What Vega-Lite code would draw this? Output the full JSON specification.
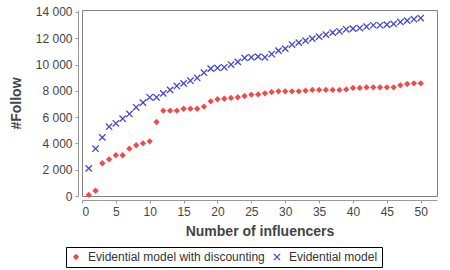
{
  "$schema": "https://vega.github.io/schema/vega-lite/v6.json",
  "autosize": "none",
  "width": 355,
  "height": 186,
  "padding": {"left": 82, "top": 10, "right": 13, "bottom": 74},
  "background": "white",
  "config": {
    "font": "Liberation Sans",
    "view": {"stroke": "#808080", "strokeWidth": 1},
    "axis": {
      "domainColor": "#999999",
      "tickColor": "#999999",
      "labelColor": "#444444",
      "labelFont": "Liberation Sans",
      "labelFontSize": 12,
      "titleFont": "Liberation Sans",
      "titleFontSize": 14,
      "titleFontWeight": "bold",
      "titleColor": "#444444",
      "grid": false,
      "offset": 4,
      "tickSize": 3
    }
  },
  "data": {
    "values": [
      {"n": 1, "s": "Evidential model with discounting", "v": 80},
      {"n": 2, "s": "Evidential model with discounting", "v": 400},
      {"n": 3, "s": "Evidential model with discounting", "v": 2490},
      {"n": 4, "s": "Evidential model with discounting", "v": 2790},
      {"n": 5, "s": "Evidential model with discounting", "v": 3100},
      {"n": 6, "s": "Evidential model with discounting", "v": 3100},
      {"n": 7, "s": "Evidential model with discounting", "v": 3600},
      {"n": 8, "s": "Evidential model with discounting", "v": 3860},
      {"n": 9, "s": "Evidential model with discounting", "v": 4010},
      {"n": 10, "s": "Evidential model with discounting", "v": 4160},
      {"n": 11, "s": "Evidential model with discounting", "v": 5630},
      {"n": 12, "s": "Evidential model with discounting", "v": 6490},
      {"n": 13, "s": "Evidential model with discounting", "v": 6490},
      {"n": 14, "s": "Evidential model with discounting", "v": 6490},
      {"n": 15, "s": "Evidential model with discounting", "v": 6640},
      {"n": 16, "s": "Evidential model with discounting", "v": 6640},
      {"n": 17, "s": "Evidential model with discounting", "v": 6640},
      {"n": 18, "s": "Evidential model with discounting", "v": 6800},
      {"n": 19, "s": "Evidential model with discounting", "v": 7200},
      {"n": 20, "s": "Evidential model with discounting", "v": 7360},
      {"n": 21, "s": "Evidential model with discounting", "v": 7400},
      {"n": 22, "s": "Evidential model with discounting", "v": 7460},
      {"n": 23, "s": "Evidential model with discounting", "v": 7510},
      {"n": 24, "s": "Evidential model with discounting", "v": 7610},
      {"n": 25, "s": "Evidential model with discounting", "v": 7710},
      {"n": 26, "s": "Evidential model with discounting", "v": 7730},
      {"n": 27, "s": "Evidential model with discounting", "v": 7810},
      {"n": 28, "s": "Evidential model with discounting", "v": 7910},
      {"n": 29, "s": "Evidential model with discounting", "v": 7960},
      {"n": 30, "s": "Evidential model with discounting", "v": 7960},
      {"n": 31, "s": "Evidential model with discounting", "v": 7960},
      {"n": 32, "s": "Evidential model with discounting", "v": 7960},
      {"n": 33, "s": "Evidential model with discounting", "v": 8010},
      {"n": 34, "s": "Evidential model with discounting", "v": 8070},
      {"n": 35, "s": "Evidential model with discounting", "v": 8070},
      {"n": 36, "s": "Evidential model with discounting", "v": 8070},
      {"n": 37, "s": "Evidential model with discounting", "v": 8070},
      {"n": 38, "s": "Evidential model with discounting", "v": 8070},
      {"n": 39, "s": "Evidential model with discounting", "v": 8110},
      {"n": 40, "s": "Evidential model with discounting", "v": 8220},
      {"n": 41, "s": "Evidential model with discounting", "v": 8220},
      {"n": 42, "s": "Evidential model with discounting", "v": 8270},
      {"n": 43, "s": "Evidential model with discounting", "v": 8270},
      {"n": 44, "s": "Evidential model with discounting", "v": 8270},
      {"n": 45, "s": "Evidential model with discounting", "v": 8270},
      {"n": 46, "s": "Evidential model with discounting", "v": 8270},
      {"n": 47, "s": "Evidential model with discounting", "v": 8420},
      {"n": 48, "s": "Evidential model with discounting", "v": 8520},
      {"n": 49, "s": "Evidential model with discounting", "v": 8570},
      {"n": 50, "s": "Evidential model with discounting", "v": 8570},
      {"n": 1, "s": "Evidential model", "v": 2100},
      {"n": 2, "s": "Evidential model", "v": 3600},
      {"n": 3, "s": "Evidential model", "v": 4460},
      {"n": 4, "s": "Evidential model", "v": 5270},
      {"n": 5, "s": "Evidential model", "v": 5530},
      {"n": 6, "s": "Evidential model", "v": 5880},
      {"n": 7, "s": "Evidential model", "v": 6240},
      {"n": 8, "s": "Evidential model", "v": 6750},
      {"n": 9, "s": "Evidential model", "v": 7100},
      {"n": 10, "s": "Evidential model", "v": 7510},
      {"n": 11, "s": "Evidential model", "v": 7510},
      {"n": 12, "s": "Evidential model", "v": 7810},
      {"n": 13, "s": "Evidential model", "v": 8070},
      {"n": 14, "s": "Evidential model", "v": 8370},
      {"n": 15, "s": "Evidential model", "v": 8570},
      {"n": 16, "s": "Evidential model", "v": 8770},
      {"n": 17, "s": "Evidential model", "v": 8980},
      {"n": 18, "s": "Evidential model", "v": 9380},
      {"n": 19, "s": "Evidential model", "v": 9690},
      {"n": 20, "s": "Evidential model", "v": 9740},
      {"n": 21, "s": "Evidential model", "v": 9790},
      {"n": 22, "s": "Evidential model", "v": 10000},
      {"n": 23, "s": "Evidential model", "v": 10200},
      {"n": 24, "s": "Evidential model", "v": 10500},
      {"n": 25, "s": "Evidential model", "v": 10550},
      {"n": 26, "s": "Evidential model", "v": 10600},
      {"n": 27, "s": "Evidential model", "v": 10550},
      {"n": 28, "s": "Evidential model", "v": 10800},
      {"n": 29, "s": "Evidential model", "v": 11060},
      {"n": 30, "s": "Evidential model", "v": 11210},
      {"n": 31, "s": "Evidential model", "v": 11520},
      {"n": 32, "s": "Evidential model", "v": 11670},
      {"n": 33, "s": "Evidential model", "v": 11820},
      {"n": 34, "s": "Evidential model", "v": 11970},
      {"n": 35, "s": "Evidential model", "v": 12120},
      {"n": 36, "s": "Evidential model", "v": 12280},
      {"n": 37, "s": "Evidential model", "v": 12430},
      {"n": 38, "s": "Evidential model", "v": 12530},
      {"n": 39, "s": "Evidential model", "v": 12680},
      {"n": 40, "s": "Evidential model", "v": 12730},
      {"n": 41, "s": "Evidential model", "v": 12780},
      {"n": 42, "s": "Evidential model", "v": 12880},
      {"n": 43, "s": "Evidential model", "v": 12990},
      {"n": 44, "s": "Evidential model", "v": 12990},
      {"n": 45, "s": "Evidential model", "v": 13040},
      {"n": 46, "s": "Evidential model", "v": 13090},
      {"n": 47, "s": "Evidential model", "v": 13240},
      {"n": 48, "s": "Evidential model", "v": 13340},
      {"n": 49, "s": "Evidential model", "v": 13450},
      {"n": 50, "s": "Evidential model", "v": 13540}
    ]
  },
  "mark": {"type": "point", "size": 40, "opacity": 1},
  "encoding": {
    "x": {
      "field": "n",
      "type": "quantitative",
      "title": "Number of influencers",
      "scale": {"domain": [0, 52.4], "nice": false, "zero": false},
      "axis": {"values": [0, 5, 10, 15, 20, 25, 30, 35, 40, 45, 50], "titlePadding": 7, "labelPadding": 3}
    },
    "y": {
      "field": "v",
      "type": "quantitative",
      "title": "#Follow",
      "scale": {"domain": [0, 14150], "nice": false},
      "axis": {
        "values": [0, 2000, 4000, 6000, 8000, 10000, 12000, 14000],
        "labelExpr": "replace(format(datum.value, ','), ',', ' ')",
        "titlePadding": 12,
        "labelPadding": 3
      }
    },
    "color": {
      "field": "s",
      "type": "nominal",
      "sort": ["Evidential model with discounting", "Evidential model"],
      "scale": {"domain": ["Evidential model with discounting", "Evidential model"], "range": ["#f04a4a", "#4646d2"]},
      "legend": {
        "title": null,
        "orient": "none",
        "direction": "horizontal",
        "legendX": -16,
        "legendY": 237,
        "strokeColor": "#000000",
        "padding": 4,
        "labelFontSize": 12,
        "labelColor": "#333333",
        "labelFont": "Liberation Sans",
        "labelLimit": 400,
        "symbolSize": 40,
        "symbolStrokeWidth": 1.3,
        "columnPadding": 6,
        "labelOffset": 6
      }
    },
    "fill": {
      "field": "s",
      "type": "nominal",
      "scale": {"domain": ["Evidential model with discounting", "Evidential model"], "range": ["#f04a4a", "transparent"]},
      "legend": null
    },
    "shape": {
      "field": "s",
      "type": "nominal",
      "scale": {"domain": ["Evidential model with discounting", "Evidential model"], "range": ["diamond", "M-1,-1L1,1M-1,1L1,-1"]},
      "legend": null
    },
    "strokeWidth": {
      "field": "s",
      "type": "nominal",
      "scale": {"domain": ["Evidential model with discounting", "Evidential model"], "range": [0, 1.3]},
      "legend": null
    }
  }
}
